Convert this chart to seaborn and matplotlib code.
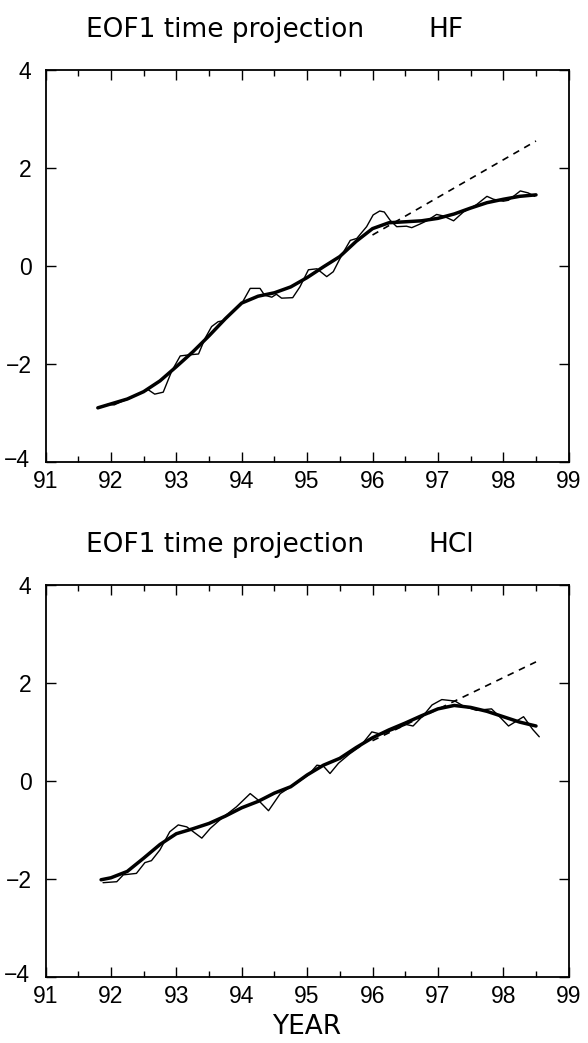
import numpy as np
import pandas as pd
import matplotlib
matplotlib.use("Agg")
import matplotlib.pyplot as plt
import matplotlib.transforms as mtransforms
import seaborn as sns
from matplotlib.ticker import MultipleLocator

# ---------------- data ----------------
hf_raw_year = [91.81, 91.95, 92.05, 92.15, 92.30, 92.45, 92.57, 92.67, 92.80, 92.93,
               93.06, 93.18, 93.34, 93.44, 93.54, 93.64, 93.72, 93.85, 94.00, 94.13,
               94.28, 94.35, 94.46, 94.53, 94.61, 94.78, 94.89, 95.02, 95.15, 95.30,
               95.40, 95.53, 95.66, 95.76, 95.91, 96.01, 96.11, 96.18, 96.27, 96.37,
               96.52, 96.60, 96.72, 96.83, 96.98, 97.08, 97.24, 97.39, 97.59, 97.75,
               97.85, 98.00, 98.08, 98.26, 98.38, 98.48]
hf_raw_val = [-2.90, -2.83, -2.84, -2.78, -2.70, -2.60, -2.53, -2.62, -2.58, -2.15,
              -1.84, -1.82, -1.80, -1.48, -1.24, -1.14, -1.12, -0.95, -0.77, -0.46,
              -0.46, -0.60, -0.64, -0.58, -0.66, -0.65, -0.43, -0.08, -0.06, -0.22,
              -0.12, 0.22, 0.52, 0.56, 0.80, 1.04, 1.12, 1.10, 0.93, 0.80,
              0.81, 0.78, 0.85, 0.92, 1.05, 1.02, 0.92, 1.10, 1.25, 1.42,
              1.36, 1.32, 1.34, 1.53, 1.49, 1.42]

hf_fit_year = [91.80, 92.00, 92.25, 92.50, 92.75, 93.00, 93.25, 93.50, 93.75, 94.00,
               94.25, 94.50, 94.75, 95.00, 95.25, 95.50, 95.75, 96.00, 96.25, 96.50,
               96.75, 97.00, 97.25, 97.50, 97.75, 98.00, 98.25, 98.50]
hf_fit_val = [-2.90, -2.82, -2.72, -2.57, -2.35, -2.06, -1.76, -1.43, -1.08, -0.76,
              -0.62, -0.55, -0.43, -0.24, -0.02, 0.19, 0.50, 0.76, 0.88, 0.90,
              0.92, 0.97, 1.06, 1.18, 1.29, 1.36, 1.42, 1.45]

hf_trend_year = [96.0, 98.5]
hf_trend_val = [0.63, 2.55]

hcl_raw_year = [91.88, 92.09, 92.19, 92.39, 92.52, 92.62, 92.75, 92.90, 93.03, 93.16,
                93.39, 93.52, 93.69, 93.92, 94.13, 94.25, 94.41, 94.59, 94.80, 95.02,
                95.15, 95.25, 95.35, 95.48, 95.65, 95.81, 95.99, 96.14, 96.32, 96.52,
                96.62, 96.78, 96.91, 97.06, 97.26, 97.40, 97.59, 97.82, 97.95, 98.08,
                98.31, 98.45, 98.55]
hcl_raw_val = [-2.08, -2.06, -1.92, -1.89, -1.67, -1.63, -1.41, -1.04, -0.90, -0.94,
               -1.17, -0.97, -0.77, -0.53, -0.26, -0.39, -0.61, -0.26, -0.08, 0.12,
               0.32, 0.30, 0.15, 0.36, 0.55, 0.70, 1.00, 0.95, 1.04, 1.15,
               1.12, 1.34, 1.55, 1.66, 1.63, 1.52, 1.44, 1.47, 1.30, 1.12,
               1.31, 1.05, 0.90]

hcl_fit_year = [91.85, 92.00, 92.25, 92.50, 92.75, 93.00, 93.25, 93.50, 93.75, 94.00,
                94.25, 94.50, 94.75, 95.00, 95.25, 95.50, 95.75, 96.00, 96.25, 96.50,
                96.75, 97.00, 97.25, 97.50, 97.75, 98.00, 98.25, 98.50]
hcl_fit_val = [-2.02, -1.98, -1.85, -1.58, -1.30, -1.08, -0.98, -0.87, -0.72, -0.55,
               -0.42, -0.25, -0.12, 0.12, 0.32, 0.46, 0.68, 0.88, 1.04, 1.18,
               1.33, 1.47, 1.54, 1.50, 1.42, 1.31, 1.20, 1.12]

hcl_trend_year = [96.0, 98.5]
hcl_trend_val = [0.82, 2.43]

x_ticks = [91, 92, 93, 94, 95, 96, 97, 98, 99]
y_ticks = [-4, -2, 0, 2, 4]

panels = [("HF", hf_raw_year, hf_raw_val, hf_fit_year, hf_fit_val, hf_trend_year, hf_trend_val),
          ("HCl", hcl_raw_year, hcl_raw_val, hcl_fit_year, hcl_fit_val, hcl_trend_year, hcl_trend_val)]

# ---------------- style ----------------
sns.set_theme(style="ticks")
plt.rcParams['font.family'] = ['Liberation Sans', 'DejaVu Sans']
plt.rcParams['axes.unicode_minus'] = True

fig = plt.figure(figsize=(5.88, 10.43), dpi=100)
W, H = 588, 1043
left = 45.5 / W
width = (568.7 - 45.5) / W
tops = [70, 585]
ph = 391.7

axes = []
for i, (name, ry, rv, fy, fv, ty, tv) in enumerate(panels):
    top = tops[i]
    ax = fig.add_axes([left, 1 - (top + ph) / H, width, ph / H])
    axes.append(ax)
    sns.lineplot(x=ry, y=rv, ax=ax, color="black", lw=1.0, sort=False, estimator=None)
    sns.lineplot(x=fy, y=fv, ax=ax, color="black", lw=2.5, sort=False, estimator=None)
    sns.lineplot(x=ty, y=tv, ax=ax, color="black", lw=1.2, sort=False, estimator=None,
                 linestyle=(0, (4, 3.5)))
    ax.set_xlim(91, 99)
    ax.set_ylim(-4, 4)
    ax.set_xticks(x_ticks)
    ax.set_xticklabels([str(t) for t in x_ticks])
    ax.set_yticks(y_ticks)
    ax.set_yticklabels([str(t).replace("-", "\u2212") for t in y_ticks])
    ax.xaxis.set_minor_locator(MultipleLocator(0.5))
    ax.tick_params(which="both", direction="in", top=True, right=True,
                   labelsize=16.5, colors="black", width=1.0)
    ax.tick_params(which="major", length=7)
    ax.tick_params(which="minor", length=4)
    ax.tick_params(axis="x", pad=6)
    ax.tick_params(axis="y", pad=10)
    for s in ax.spines.values():
        s.set_linewidth(1.3)
        s.set_color("black")
    ax.set_xlabel("")
    ax.set_ylabel("")
    # lift the bottom y label slightly, as in the reference
    lab = ax.get_yticklabels()[0]
    lab.set_transform(lab.get_transform() +
                      mtransforms.ScaledTranslation(-2 / 100, 4 / 100, fig.dpi_scale_trans))
    # titles
    base = top - 33
    fig.text(86 / W, 1 - base / H, "EOF1 time projection", fontsize=19,
             family="DejaVu Sans", ha="left", va="baseline", color="black")
    fig.text(428 / W, 1 - base / H, name, fontsize=19,
             family="DejaVu Sans", ha="left", va="baseline", color="black")

axes[1].set_xlabel("YEAR", fontsize=19, family="DejaVu Sans", labelpad=4, color="black")

fig.savefig("out.png", dpi=100, facecolor="white")
